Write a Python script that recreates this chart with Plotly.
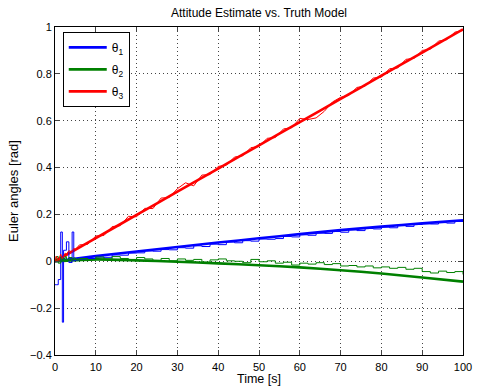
import plotly.graph_objects as go

# Truth model (thick lines)
t_truth = [0, 10, 20, 30, 40, 50, 60, 70, 80, 90, 100]
theta1_truth = [0.0, 0.022, 0.042, 0.061, 0.080, 0.098, 0.116, 0.133, 0.148, 0.162, 0.175]
theta2_truth = [0.0, 0.008, 0.004, -0.002, -0.009, -0.017, -0.026, -0.038, -0.052, -0.069, -0.087]
theta3_truth = [0.0, 0.099, 0.198, 0.297, 0.396, 0.495, 0.594, 0.693, 0.792, 0.891, 0.990]

# Estimates (thin lines)
t_est = [0, 0.3, 0.8, 1.4, 1.8, 2.1, 2.5, 2.8, 3.4, 4.2, 4.6, 5.0,
         6, 8, 10, 12, 14, 16, 18, 20, 22, 24, 26, 28, 30, 32, 34, 36, 38, 40,
         42, 44, 46, 48, 50, 52, 54, 56, 58, 60, 62, 64, 66, 68, 70, 72, 74, 76,
         78, 80, 82, 84, 86, 88, 90, 92, 94, 96, 98, 100]
theta1_est = [-0.10, -0.10, -0.078, 0.125, -0.26, 0.047, 0.047, 0.083, -0.005, 0.125, 0.002, 0.006,
              0.010, 0.012, 0.018, 0.017, 0.027, 0.026, 0.035, 0.036, 0.044, 0.043, 0.050, 0.049,
              0.058, 0.056, 0.066, 0.063, 0.073, 0.071, 0.082, 0.079, 0.088, 0.086, 0.095, 0.094,
              0.097, 0.106, 0.104, 0.113, 0.111, 0.120, 0.119, 0.127, 0.124, 0.134, 0.131, 0.140,
              0.138, 0.146, 0.143, 0.152, 0.149, 0.157, 0.160, 0.159, 0.165, 0.163, 0.170, 0.171]
theta2_est = [0.005, 0.020, -0.008, 0.018, 0.0, 0.012, 0.020, 0.004, 0.016, 0.006, 0.014, 0.008,
              0.012, 0.006, 0.018, 0.010, 0.020, 0.012, 0.008, 0.016, 0.010, 0.004, 0.012, 0.002,
              0.010, 0.004, 0.008, -0.004, 0.006, 0.010, 0.002, 0.000, -0.006, 0.008, -0.002, 0.002,
              -0.008, -0.004, -0.016, -0.008, -0.012, -0.006, -0.014, -0.010, -0.020, -0.018, -0.024, -0.020,
              -0.028, -0.024, -0.030, -0.026, -0.034, -0.030, -0.044, -0.050, -0.042, -0.048, -0.044, -0.056]
theta3_est = [0.0, 0.022, 0.004, 0.030, 0.012, 0.025, 0.035, 0.030, 0.045, 0.040, 0.055, 0.050,
              0.070, 0.072, 0.108, 0.110, 0.148, 0.152, 0.192, 0.190, 0.226, 0.225, 0.270, 0.272,
              0.310, 0.335, 0.322, 0.368, 0.370, 0.405, 0.410, 0.445, 0.450, 0.485, 0.490, 0.525,
              0.528, 0.565, 0.570, 0.610, 0.605, 0.612, 0.640, 0.680, 0.700, 0.708, 0.742, 0.748,
              0.782, 0.786, 0.822, 0.825, 0.862, 0.866, 0.900, 0.905, 0.940, 0.946, 0.978, 0.985]

names = ["θ<sub>1</sub>", "θ<sub>2</sub>", "θ<sub>3</sub>"]
colors = ["#0000ff", "#008000", "#ff0000"]
est_shapes = ["hv", "hv", "linear"]

x_ticks = [0, 10, 20, 30, 40, 50, 60, 70, 80, 90, 100]
y_ticks = [-0.4, -0.2, 0, 0.2, 0.4, 0.6, 0.8, 1]
y_labels = ["\u22120.4", "\u22120.2", "0", "0.2", "0.4", "0.6", "0.8", "1"]

fig = go.Figure()
for i, (yv, nm, c) in enumerate(zip([theta1_truth, theta2_truth, theta3_truth], names, colors)):
    fig.add_trace(go.Scatter(x=t_truth, y=yv, mode="lines", name=nm, legendgroup=f"g{i}",
                             line=dict(color=c, width=2.6, shape="spline", smoothing=0.6)))
for yv, c, sh in zip([theta1_est, theta2_est, theta3_est], colors, est_shapes):
    fig.add_trace(go.Scatter(x=t_est, y=yv, mode="lines", showlegend=False,
                             line=dict(color=c, width=1, shape=sh)))

font = "Liberation Sans, Arial, Helvetica, sans-serif"
grid = dict(showgrid=True, gridcolor="#444444", griddash="1px,3px", gridwidth=1)
fig.update_layout(
    width=481, height=390,
    margin=dict(l=55, r=9, t=27, b=35),
    paper_bgcolor="white", plot_bgcolor="white",
    font=dict(family=font, size=11, color="black"),
    title=dict(text="Attitude Estimate vs. Truth Model", x=0.5, xref="paper",
               y=1 - 13 / 390, yanchor="middle", font=dict(size=12)),
    showlegend=True,
    legend=dict(x=0.019, y=0.985, xanchor="left", yanchor="top",
                bgcolor="white", bordercolor="black", borderwidth=1,
                font=dict(size=12), traceorder="grouped", tracegroupgap=3,
                itemwidth=38),
    annotations=[dict(text="Time [s]", xref="paper", yref="paper", x=0.5, y=-24 / 328,
                      xanchor="center", yanchor="middle", showarrow=False,
                      font=dict(size=12.5))],
)
fig.update_xaxes(range=[0, 100], tickvals=x_ticks, ticks="inside", ticklen=5,
                 showline=True, linecolor="black", linewidth=1, mirror="ticks",
                 zeroline=False, ticklabelstandoff=2,
                 tickfont=dict(size=11), ticklabeloverflow="allow", **grid)
fig.update_yaxes(range=[-0.4, 1], tickvals=y_ticks, ticktext=y_labels, ticks="inside", ticklen=5,
                 showline=True, linecolor="black", linewidth=1, mirror="ticks",
                 zeroline=False, title=dict(text="Euler angles [rad]", standoff=8),
                 tickfont=dict(size=11), ticklabeloverflow="allow", **grid)

fig.write_html("out.html")
